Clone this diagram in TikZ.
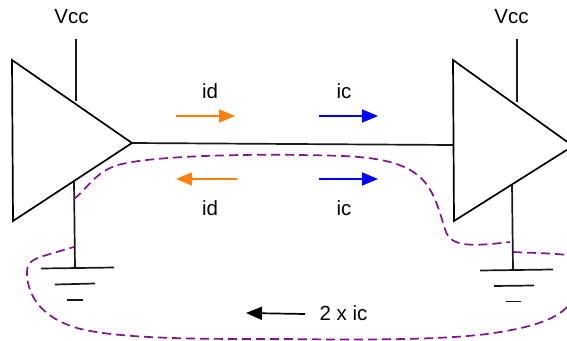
\documentclass[tikz,border=0pt]{standalone}
\usepackage{fontspec}
\setmainfont{Liberation Sans}
\usetikzlibrary{arrows.meta}
\definecolor{looppurple}{RGB}{128,20,140}
\definecolor{orng}{RGB}{255,128,10}
\tikzset{
  wire/.style={line width=1.7pt,black!90},
  tri/.style={line width=1.7pt,black,line join=miter,fill=white},
  flow/.style={line width=1.7pt,-{Triangle[length=16pt,width=13pt]},shorten >=0pt},
  loopline/.style={draw=looppurple,line width=1.7pt,dash pattern=on 9pt off 5pt},
  lbl/.style={font=\fontsize{20.5}{24}\selectfont,inner sep=0pt,anchor=center}
}
\begin{document}
\begin{tikzpicture}[x=1pt,y=-1pt]
\useasboundingbox (0,0) rectangle (567,340);
\clip (0,0) rectangle (567,340);
% coordinates
\coordinate (a1) at (12,60); \coordinate (aout) at (132,143); \coordinate (a3) at (13,221);
\coordinate (b1) at (453,60); \coordinate (bapex) at (573,146); \coordinate (b3) at (454,221);
\coordinate (ain) at (453,145);
\coordinate (vcca) at (76,39); \coordinate (vccat) at (76,101);
\coordinate (vccb) at (517,39); \coordinate (vccbt) at (517,102);
\coordinate (gat) at (74,182); \coordinate (gab) at (75,268);
\coordinate (gbt) at (512,184); \coordinate (gbb) at (513,270);
% supply and ground leads
\draw[wire] (vcca) -- (vccat);
\draw[wire] (vccb) -- (vccbt);
\draw[wire] (gat) -- (gab);
\draw[wire] (gbt) -- (gbb);
\draw[wire] (aout) -- (ain);
% triangles
\draw[tri] (a1) -- (aout) -- (a3) -- cycle;
\draw[tri] (b1) -- (bapex) -- (b3) -- cycle;
% grounds
\draw[wire] (41,268.5) -- (114,267.5);
\draw[wire] (55,284.5) -- (95,283.5);
\draw[wire] (67,300) -- (83,300);
\draw[wire] (480,270.5) -- (553,269.5);
\draw[wire] (494,286) -- (534,285.5);
\draw[wire] (506,301.5) -- (521,301.5);
% current arrows
\draw[flow,orng] (176,116) -- (235,116);
\draw[flow,blue] (319,116) -- (378,116);
\draw[flow,orng] (237,179) -- (176,179);
\draw[flow,blue] (319,179) -- (378,179);
\draw[flow,black] (305,314) -- (246,313);
% current loop
\draw[loopline] (74,199) .. controls (88,188) and (95,172) .. (118,165)
  .. controls (150,156) and (240,154) .. (300,155)
  .. controls (350,156) and (395,155) .. (420,177)
  .. controls (436,192) and (440,215) .. (446,232)
  .. controls (452,246) and (468,247) .. (510,242);
\draw[loopline] (513,252) .. controls (530,253) and (550,253) .. (567,255);
\draw[loopline] (567,307) .. controls (555,320) and (530,328) .. (487,334)
  .. controls (440,340) and (360,340) .. (287,339)
  .. controls (220,339) and (120,340) .. (77,328)
  .. controls (50,320) and (33,305) .. (28,283)
  .. controls (25,265) and (28,262) .. (40,257)
  .. controls (50,254) and (60,251) .. (74,247);
% labels
\node[lbl] (vl) at (71.5,17) {Vcc};
\node[lbl] (vr) at (511.5,17) {Vcc};
\node[lbl] (idt) at (210,91.5) {id};
\node[lbl] (ict) at (344,91.5) {ic};
\node[lbl] (idb) at (210,208) {id};
\node[lbl] (icb) at (344,208) {ic};
\node[lbl] (two) at (343.5,313) {2 x ic};
\end{tikzpicture}
\end{document}
